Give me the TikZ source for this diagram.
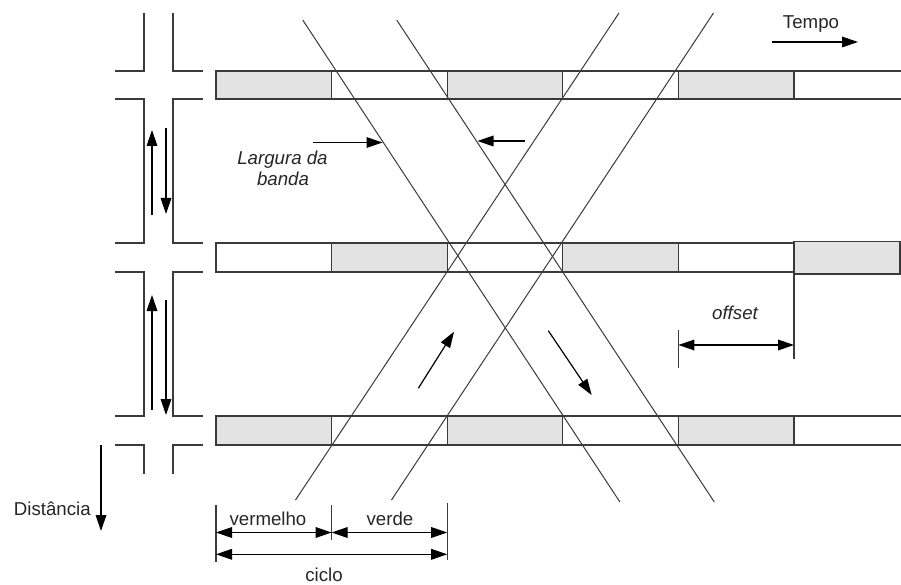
\documentclass[tikz,border=0pt]{standalone}
\usepackage{fontspec}
\setmainfont{Liberation Sans}
\usetikzlibrary{arrows.meta}
\definecolor{linegray}{HTML}{3A3A3A}
\definecolor{boxgray}{HTML}{E3E3E3}
\tikzset{
  barline/.style={draw=linegray, line width=1pt},
  redbox/.style={barline, fill=boxgray},
  road/.style={draw=linegray, line width=1pt},
  traj/.style={draw=linegray, line width=0.75pt},
  arr/.style={draw=black, line width=0.9pt, -{Triangle[length=12pt,width=8pt]}},
  darr/.style={draw=black, line width=0.9pt, {Triangle[length=12pt,width=8pt]}-{Triangle[length=12pt,width=8pt]}},
  dimline/.style={draw=linegray, line width=0.9pt},
  lbl/.style={font=\fontsize{14}{16}\selectfont, inner sep=0pt, text=black!85},
}
\begin{document}
\begin{tikzpicture}[x=0.75pt, y=-0.75pt]
\useasboundingbox (0,0) rectangle (901,585);

% ---- road (left) ----
\draw[road] (144,13) -- (144,71) -- (115,71);
\draw[road] (173,13) -- (173,71) -- (203,71);
\draw[road] (115,99) -- (144,99) -- (144,243) -- (115,243);
\draw[road] (203,99) -- (173,99) -- (173,243) -- (203,243);
\draw[road] (115,272) -- (144,272) -- (144,416) -- (115,416);
\draw[road] (203,272) -- (173,272) -- (173,416) -- (203,416);
\draw[road] (115,445) -- (144,445) -- (144,474);
\draw[road] (203,445) -- (173,445) -- (173,474);

% ---- signal bars ----
% top row
\draw[redbox] (216,71) rectangle (331.6,99);
\draw[barline] (331.6,71) rectangle (447.2,99);
\draw[redbox] (447.2,71) rectangle (562.8,99);
\draw[barline] (562.8,71) rectangle (678.4,99);
\draw[redbox] (678.4,71) rectangle (794,99);
\draw[barline] (901,71) -- (794,71) (794,99) -- (901,99);
% middle row
\draw[barline] (216,243) rectangle (331.6,272);
\draw[redbox] (331.6,243) rectangle (447.2,272);
\draw[barline] (447.2,243) rectangle (562.8,272);
\draw[redbox] (562.8,243) rectangle (678.4,272);
\draw[barline] (678.4,243) rectangle (794,272);
\draw[redbox] (794,241.5) rectangle (900,274);
% bottom row
\draw[redbox] (216,416) rectangle (331.6,445);
\draw[barline] (331.6,416) rectangle (447.2,445);
\draw[redbox] (447.2,416) rectangle (562.8,445);
\draw[barline] (562.8,416) rectangle (678.4,445);
\draw[redbox] (678.4,416) rectangle (794,445);
\draw[barline] (901,416) -- (794,416) (794,445) -- (901,445);

% ---- trajectories ----
\coordinate (a1) at (302.7,20);  \coordinate (a2) at (619.9,502);
\coordinate (b1) at (396.7,20);  \coordinate (b2) at (714.3,502);
\coordinate (c1) at (619,13);    \coordinate (c2) at (295.5,500);
\coordinate (d1) at (713.5,13);  \coordinate (d2) at (391.5,500);
\draw[traj] (a1) -- (a2);
\draw[traj] (b1) -- (b2);
\draw[traj] (c1) -- (c2);
\draw[traj] (d1) -- (d2);

% ---- arrows ----
\coordinate (u1s) at (152,215); \coordinate (u1e) at (152,130);
\coordinate (w1s) at (166,128); \coordinate (w1e) at (166,214);
\coordinate (u2s) at (152,410); \coordinate (u2e) at (152,295);
\coordinate (w2s) at (166,300); \coordinate (w2e) at (166,415);
\draw[arr] (u1s) -- (u1e);
\draw[arr] (w1s) -- (w1e);
\draw[arr] (u2s) -- (u2e);
\draw[arr] (w2s) -- (w2e);

\coordinate (ds) at (101,445); \coordinate (de) at (101,531);
\draw[arr] (ds) -- (de);

\coordinate (ts) at (772,42); \coordinate (te) at (858,42);
\draw[arr] (ts) -- (te);

\coordinate (l1s) at (313,142.5); \coordinate (l1e) at (382.5,142.5);
\coordinate (l2s) at (525,141); \coordinate (l2e) at (477.5,141);
\draw[arr] (l1s) -- (l1e);
\draw[arr] (l2s) -- (l2e);

\coordinate (p1s) at (418.3,388.3); \coordinate (p1e) at (454,331.7);
\coordinate (p2s) at (548.3,330.7); \coordinate (p2e) at (591.7,395);
\draw[arr] (p1s) -- (p1e);
\draw[arr] (p2s) -- (p2e);

% ---- offset dimension ----
\coordinate (o1t) at (794,274); \coordinate (o1b) at (794,359);
\coordinate (o2t) at (678.4,330); \coordinate (o2b) at (678.4,368);
\draw[dimline] (o1t) -- (o1b);
\draw[dimline] (o2t) -- (o2b);
\coordinate (oa) at (678.4,345); \coordinate (ob) at (794,345);
\draw[darr] (oa) -- (ob);

% ---- cycle dimensions ----
\coordinate (e1t) at (216,505);   \coordinate (e1b) at (216,562);
\coordinate (e2t) at (331.6,505); \coordinate (e2b) at (331.6,540);
\coordinate (e3t) at (447.2,503); \coordinate (e3b) at (447.2,560);
\draw[dimline] (e1t) -- (e1b);
\draw[dimline] (e2t) -- (e2b);
\draw[dimline] (e3t) -- (e3b);
\coordinate (v1) at (216,532.5); \coordinate (v2) at (331.6,532.5); \coordinate (v3) at (447.2,532.5);
\draw[darr] (v1) -- (v2);
\draw[darr] (v2) -- (v3);
\coordinate (c1d) at (216,554.3); \coordinate (c2d) at (447.2,554.3);
\draw[darr] (c1d) -- (c2d);

% ---- labels ----
\node[lbl, anchor=base] (tempo) at (811,28.5) {Tempo};
\node[lbl, anchor=base, font=\fontsize{14}{16}\selectfont\itshape] (larg1) at (282.5,165) {Largura da};
\node[lbl, anchor=base, font=\fontsize{14}{16}\selectfont\itshape] (larg2) at (283,185.5) {banda};
\node[lbl, anchor=base, font=\fontsize{14}{16}\selectfont\itshape] (offset) at (735,319.3) {offset};
\node[lbl, anchor=base] (verm) at (268,525) {vermelho};
\node[lbl, anchor=base] (verde) at (390,525) {verde};
\node[lbl, anchor=base] (ciclo) at (324,581.5) {ciclo};
\node[lbl, anchor=base east] (dist) at (91,515) {Distância};
\end{tikzpicture}
\end{document}
